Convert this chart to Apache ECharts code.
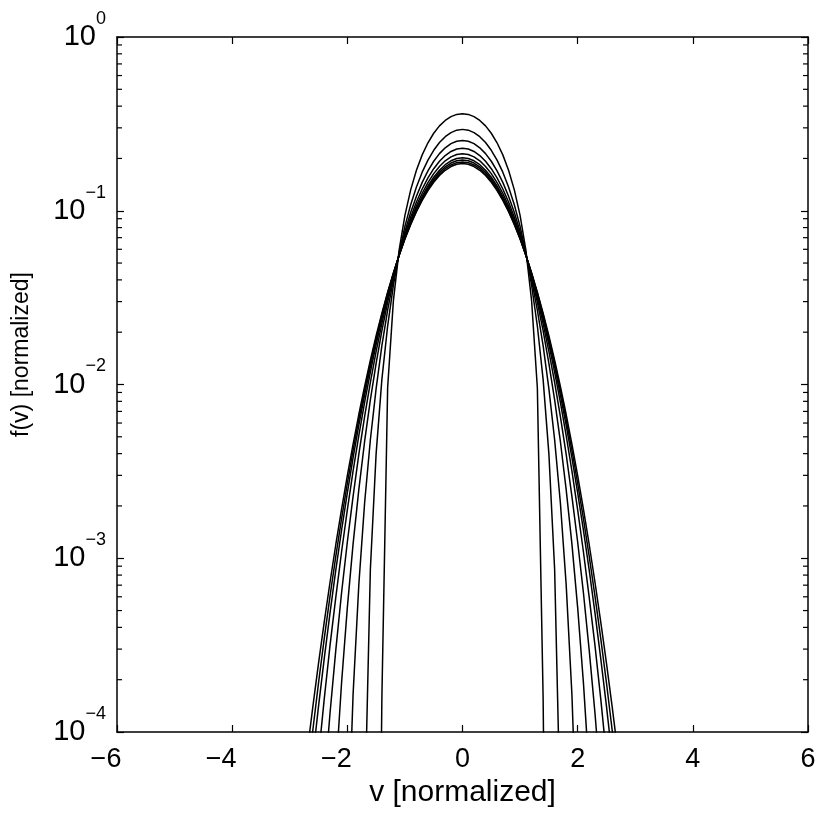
<!DOCTYPE html>
<html>
<head>
<meta charset="utf-8">
<script src="https://cdn.jsdelivr.net/npm/echarts@6/dist/echarts.min.js"></script>
<style>
  html, body { margin: 0; padding: 0; background: #fff; }
  #chart { width: 830px; height: 824px; }
</style>
</head>
<body>
<div id="chart"></div>
<script>
// velocity grid [normalized]
const v = [-2.7,-2.6,-2.5,-2.4,-2.3,-2.2,-2.1,-2.0,-1.9,-1.8,-1.7,-1.6,-1.5,-1.4,-1.3,-1.2,-1.1,-1.0,-0.9,-0.8,-0.7,-0.6,-0.5,-0.4,-0.3,-0.2,-0.1,
  0,
  0.1,0.2,0.3,0.4,0.5,0.6,0.7,0.8,0.9,1.0,1.1,1.2,1.3,1.4,1.5,1.6,1.7,1.8,1.9,2.0,2.1,2.2,2.3,2.4,2.5,2.6,2.7];

// f(v) of each curve (values far below 1e-4 are only there so the line drops out of the axes)
const f1 = [1e-7,1e-7,1e-7,1e-7,1e-7,1e-7,1e-7,1e-7,1e-7,1e-7,1e-7,1e-7,1e-7,1.58e-4,0.00957,0.0304,0.0595,0.0941,0.1319,0.1711,0.2097,0.2462,0.2793,0.3079,0.3310,0.3481,0.3585,
  0.362,
  0.3585,0.3481,0.3310,0.3079,0.2793,0.2462,0.2097,0.1711,0.1319,0.0941,0.0595,0.0304,0.00957,1.58e-4,1e-7,1e-7,1e-7,1e-7,1e-7,1e-7,1e-7,1e-7,1e-7,1e-7,1e-7,1e-7,1e-7];
const f2 = [1e-7,1e-7,1e-7,1e-7,1e-7,1e-7,1e-7,1e-7,1e-7,1e-7,3.13e-5,8.64e-4,0.00400,0.0107,0.0217,0.0373,0.0573,0.0813,0.1082,0.1371,0.1667,0.1957,0.2228,0.2469,0.2668,0.2817,0.2909,
  0.294,
  0.2909,0.2817,0.2668,0.2469,0.2228,0.1957,0.1667,0.1371,0.1082,0.0813,0.0573,0.0373,0.0217,0.0107,0.00400,8.64e-4,3.13e-5,1e-7,1e-7,1e-7,1e-7,1e-7,1e-7,1e-7,1e-7,1e-7,1e-7];
const f3 = [1e-7,1e-7,1e-7,1e-7,1e-7,1e-7,2.5e-7,1.83e-5,1.65e-4,7.08e-4,0.00208,0.00481,0.00947,0.01673,0.0268,0.0400,0.0565,0.0759,0.0977,0.1213,0.1457,0.1698,0.1927,0.2132,0.2304,0.2433,0.2513,
  0.254,
  0.2513,0.2433,0.2304,0.2132,0.1927,0.1698,0.1457,0.1213,0.0977,0.0759,0.0565,0.0400,0.0268,0.01673,0.00947,0.00481,0.00208,7.08e-4,1.65e-4,1.83e-5,2.5e-7,1e-7,1e-7,1e-7,1e-7,1e-7,1e-7];
const f4 = [1e-9,1e-8,1.4e-7,2.0e-6,1.34e-5,5.83e-5,1.92e-4,5.20e-4,0.00121,0.00249,0.00470,0.00815,0.01324,0.0204,0.0297,0.0417,0.0561,0.0730,0.0918,0.1122,0.1334,0.1546,0.1746,0.1927,0.2079,0.2194,0.2266,
  0.229,
  0.2266,0.2194,0.2079,0.1927,0.1746,0.1546,0.1334,0.1122,0.0918,0.0730,0.0561,0.0417,0.0297,0.0204,0.01324,0.00815,0.00470,0.00249,0.00121,5.20e-4,1.92e-4,5.83e-5,1.34e-5,2.0e-6,1.4e-7,1e-8,1e-9];
const f5 = [1.1e-6,5.1e-6,1.7e-5,5.01e-5,1.29e-4,2.97e-4,6.33e-4,0.00124,0.00227,0.00397,0.00653,0.0103,0.0155,0.0224,0.0314,0.0425,0.0558,0.0712,0.0884,0.1069,0.1261,0.1452,0.1635,0.1799,0.1938,0.2042,0.2108,
  0.213,
  0.2108,0.2042,0.1938,0.1799,0.1635,0.1452,0.1261,0.1069,0.0884,0.0712,0.0558,0.0425,0.0314,0.0224,0.0155,0.0103,0.00653,0.00397,0.00227,0.00124,6.33e-4,2.97e-4,1.29e-4,5.01e-5,1.7e-5,5.1e-6,1.1e-6];
const f6 = [1.29e-5,3.18e-5,7.26e-5,1.56e-4,3.16e-4,5.97e-4,0.00109,0.00190,0.00318,0.00510,0.00788,0.01177,0.0170,0.0239,0.0325,0.0431,0.0557,0.0701,0.0861,0.1033,0.1212,0.1390,0.1559,0.1712,0.1841,0.1939,0.1999,
  0.202,
  0.1999,0.1939,0.1841,0.1712,0.1559,0.1390,0.1212,0.1033,0.0861,0.0701,0.0557,0.0431,0.0325,0.0239,0.0170,0.01177,0.00788,0.00510,0.00318,0.00190,0.00109,5.97e-4,3.16e-4,1.56e-4,7.26e-5,3.18e-5,1.29e-5];
const f7 = [3.42e-5,7.09e-5,1.41e-4,2.66e-4,4.87e-4,8.57e-4,0.00145,0.00238,0.00379,0.00583,0.00870,0.01266,0.0179,0.0247,0.0331,0.0434,0.0555,0.0694,0.0848,0.1013,0.1184,0.1355,0.1518,0.1664,0.1788,0.1882,0.1940,
  0.196,
  0.1940,0.1882,0.1788,0.1664,0.1518,0.1355,0.1184,0.1013,0.0848,0.0694,0.0555,0.0434,0.0331,0.0247,0.0179,0.01266,0.00870,0.00583,0.00379,0.00238,0.00145,8.57e-4,4.87e-4,2.66e-4,1.41e-4,7.09e-5,3.42e-5];
const f8 = [5.25e-5,1.02e-4,1.92e-4,3.47e-4,6.07e-4,0.00103,0.00169,0.00270,0.00419,0.00631,0.00928,0.0133,0.0185,0.0253,0.0336,0.0437,0.0556,0.0690,0.0840,0.0999,0.1164,0.1329,0.1485,0.1626,0.1745,0.1835,0.1891,
  0.191,
  0.1891,0.1835,0.1745,0.1626,0.1485,0.1329,0.1164,0.0999,0.0840,0.0690,0.0556,0.0437,0.0336,0.0253,0.0185,0.0133,0.00928,0.00631,0.00419,0.00270,0.00169,0.00103,6.07e-4,3.47e-4,1.92e-4,1.02e-4,5.25e-5];
const f9 = [7.53e-5,1.39e-4,2.49e-4,4.32e-4,7.30e-4,0.00120,0.00192,0.00299,0.00454,0.00674,0.00976,0.0138,0.0191,0.0257,0.0340,0.0439,0.0555,0.0687,0.0832,0.0987,0.1147,0.1307,0.1458,0.1595,0.1710,0.1797,0.1852,
  0.187,
  0.1852,0.1797,0.1710,0.1595,0.1458,0.1307,0.1147,0.0987,0.0832,0.0687,0.0555,0.0439,0.0340,0.0257,0.0191,0.0138,0.00976,0.00674,0.00454,0.00299,0.00192,0.00120,7.30e-4,4.32e-4,2.49e-4,1.39e-4,7.53e-5];

const curves = [f1, f2, f3, f4, f5, f6, f7, f8, f9];

// minor ticks of the log axis (2..9 in every decade)
const minorTicks = [2e-4,3e-4,4e-4,5e-4,6e-4,7e-4,8e-4,9e-4,
  2e-3,3e-3,4e-3,5e-3,6e-3,7e-3,8e-3,9e-3,
  2e-2,3e-2,4e-2,5e-2,6e-2,7e-2,8e-2,9e-2,
  0.2,0.3,0.4,0.5,0.6,0.7,0.8,0.9];

const FONT = 'Liberation Sans';
const chart = echarts.init(document.getElementById('chart'));

const lineSeries = curves.map(function (f) {
  return {
    type: 'line',
    data: v.map(function (x, i) { return [x, f[i]]; }),
    showSymbol: false,
    clip: true,
    lineStyle: { color: '#000', width: 1.5 },
    emphasis: { disabled: true }
  };
});

const minorSeries = {
  type: 'custom',
  data: minorTicks.map(function (y) { return [-6, y]; }),
  clip: false,
  silent: true,
  renderItem: function (params, api) {
    const y = api.value(1);
    const a = api.coord([-6, y]);
    const b = api.coord([6, y]);
    return {
      type: 'group',
      children: [
        { type: 'line', shape: { x1: a[0], y1: a[1], x2: a[0] + 5, y2: a[1] }, style: { stroke: '#000', lineWidth: 1.2 } },
        { type: 'line', shape: { x1: b[0], y1: b[1], x2: b[0] - 5, y2: b[1] }, style: { stroke: '#000', lineWidth: 1.2 } }
      ]
    };
  }
};

const axisLine = { show: true, onZero: false, lineStyle: { color: '#000', width: 1.5 } };
const axisTick = { show: true, inside: true, length: 7, lineStyle: { color: '#000', width: 1.2 } };

chart.setOption({
  animation: false,
  textStyle: { fontFamily: FONT },
  grid: { left: 117, right: 22, top: 37, bottom: 92 },
  xAxis: [
    {
      type: 'value', min: -6, max: 6, interval: 2, position: 'bottom',
      axisLine: axisLine, axisTick: axisTick, splitLine: { show: false },
      axisLabel: {
        margin: 14, color: '#000',
        formatter: function (val) {
          return val < 0 ? '{n|\u2212' + (-val) + '}' : '{p|' + val + '}';
        },
        rich: {
          n: { fontSize: 27, fontFamily: FONT, color: '#000', padding: [0, 22, 0, 0] },
          p: { fontSize: 27, fontFamily: FONT, color: '#000' }
        }
      },
      name: 'v [normalized]', nameLocation: 'middle', nameGap: 43,
      nameTextStyle: { fontSize: 30, color: '#000', fontFamily: FONT }
    },
    {
      type: 'value', min: -6, max: 6, interval: 2, position: 'top',
      axisLine: axisLine, axisTick: axisTick, splitLine: { show: false },
      axisLabel: { show: false }
    }
  ],
  yAxis: [
    {
      type: 'log', logBase: 10, min: 1e-4, max: 1, position: 'left',
      axisLine: axisLine, axisTick: axisTick, splitLine: { show: false },
      axisLabel: {
        margin: 11, color: '#000',
        formatter: function (val) {
          const e = Math.round(Math.log10(val));
          return '{b|10}{e|' + (e < 0 ? '\u2212' + (-e) : e) + '}';
        },
        rich: {
          b: { fontSize: 29, fontFamily: FONT, color: '#000' },
          e: { fontSize: 18, fontFamily: FONT, color: '#000', padding: [0, 0, 36, 0] }
        }
      },
      name: 'f(v) [normalized]', nameLocation: 'middle', nameGap: 84,
      nameTextStyle: { fontSize: 23, color: '#000', fontFamily: FONT, padding: [0, 0, 0, 60] }
    },
    {
      type: 'log', logBase: 10, min: 1e-4, max: 1, position: 'right',
      axisLine: axisLine, axisTick: axisTick, splitLine: { show: false },
      axisLabel: { show: false }
    }
  ],
  series: lineSeries.concat([minorSeries])
});
</script>
</body>
</html>
